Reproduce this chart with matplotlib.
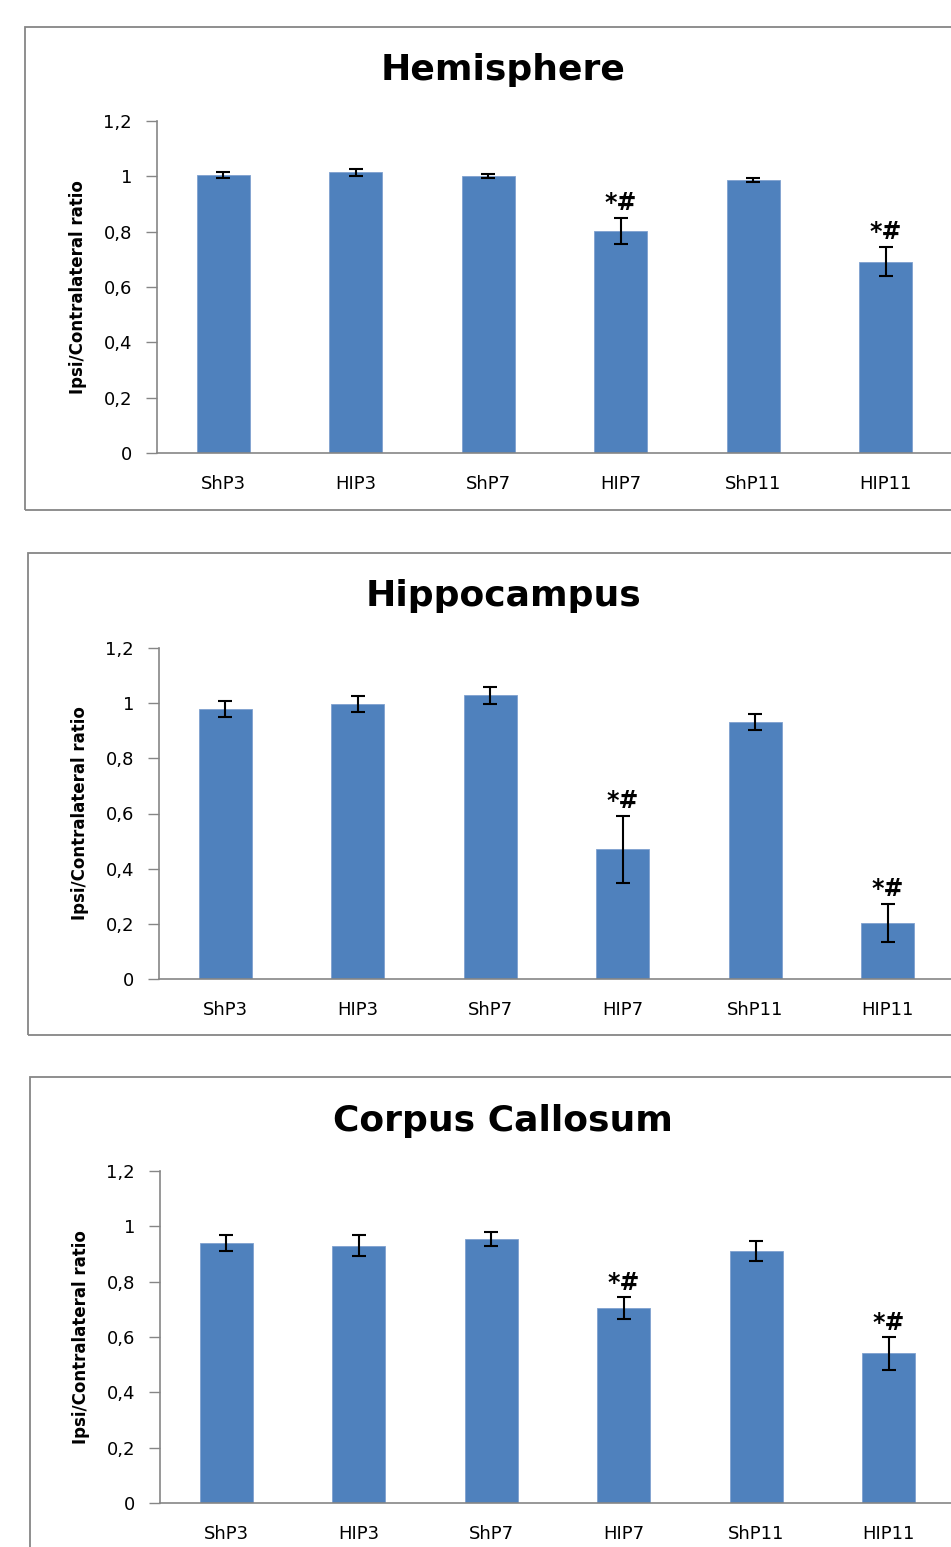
import matplotlib
matplotlib.use('Agg')
import matplotlib.pyplot as plt
from matplotlib.patches import Rectangle

groups = ['ShP3', 'HIP3', 'ShP7', 'HIP7', 'ShP11', 'HIP11']

titles = ['Hemisphere', 'Hippocampus', 'Corpus Callosum']

hemi_val = [1.005, 1.015, 1.0, 0.803, 0.988, 0.692]
hemi_err = [0.012, 0.013, 0.007, 0.048, 0.007, 0.054]

hippo_val = [0.979, 0.997, 1.028, 0.470, 0.932, 0.203]
hippo_err = [0.030, 0.030, 0.030, 0.122, 0.030, 0.070]

cc_val = [0.940, 0.929, 0.954, 0.705, 0.911, 0.541]
cc_err = [0.030, 0.038, 0.024, 0.040, 0.036, 0.060]

yticks = [0, 0.2, 0.4, 0.6, 0.8, 1.0, 1.2]
ytick_labels = ['0', '0,2', '0,4', '0,6', '0,8', '1', '1,2']
signif = ['', '', '', '*#', '', '*#']

values = [hemi_val, hippo_val, cc_val]
errors = [hemi_err, hippo_err, cc_err]

W, H = 951, 1547
fig = plt.figure(figsize=(W / 100, H / 100), dpi=100)

# axes boxes in pixels: left, top(1.2), bottom(0), panel frame (x0, y0, y1), title y
layout = [
    (157, 121, 453, (25, 27, 510), 70),
    (159, 648, 979, (28, 553, 1035), 596),
    (160, 1171, 1503, (30, 1077, 1560), 1121),
]

grey = '#868686'
bar_col = '#4F81BD'

for i, (left, top, bottom, frame, ty) in enumerate(layout):
    fx0, fy0, fy1 = frame
    fig.patches.append(Rectangle((fx0 / W, 1 - fy1 / H), (W + 10 - fx0) / W, (fy1 - fy0) / H,
                                 transform=fig.transFigure, fill=False,
                                 edgecolor=grey, linewidth=1.3))

    ax = fig.add_axes([left / W, 1 - bottom / H, 795 / W, (bottom - top) / H])
    x = list(range(len(groups)))
    ax.bar(x, values[i], width=0.4, color=bar_col, edgecolor='#7FA1CF', linewidth=0.6,
           yerr=errors[i], capsize=5,
           error_kw=dict(ecolor='black', elinewidth=1.5, capthick=1.5))
    for xi, v, e, s in zip(x, values[i], errors[i], signif):
        if s:
            ax.text(xi, v + e + 0.008, s, ha='center', va='bottom', fontsize=17,
                    fontweight='bold', color='black')

    ax.set_xlim(-0.5, 5.5)
    ax.set_ylim(0, 1.2)
    ax.set_yticks(yticks)
    ax.set_yticklabels(ytick_labels, fontsize=13)
    ax.set_xticks(x)
    ax.set_xticklabels(groups, fontsize=13)
    ax.tick_params(axis='x', length=0, pad=16)
    ax.tick_params(axis='y', length=8, width=1, color=grey, pad=10)
    for sp in ['top', 'right']:
        ax.spines[sp].set_visible(False)
    for sp in ['left', 'bottom']:
        ax.spines[sp].set_color(grey)
        ax.spines[sp].set_linewidth(1.2)
    ax.set_ylabel('Ipsi/Contralateral ratio', fontsize=12, fontweight='bold',
                  labelpad=12)

    fig.text(503 / W, 1 - ty / H, titles[i], ha='center', va='center',
             fontsize=26, fontweight='bold')

fig.savefig('out.png', dpi=100)
